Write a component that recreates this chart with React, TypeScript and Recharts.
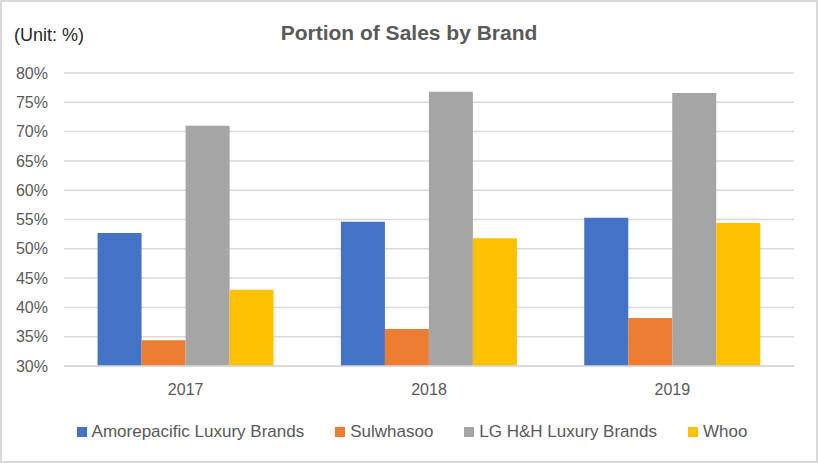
import React from "react";
import { BarChart, Bar, XAxis, YAxis, CartesianGrid, Legend } from "recharts";

const years = ["2017", "2018", "2019"];
const amorepacific = [52.7, 54.6, 55.3];
const sulwhasoo = [34.4, 36.3, 38.2];
const lgLuxury = [71.0, 76.8, 76.6];
const whoo = [43.0, 51.8, 54.4];
const yTicks = [30, 35, 40, 45, 50, 55, 60, 65, 70, 75, 80];

const series = [
  { key: "amore", name: "Amorepacific Luxury Brands", color: "#4472C4", values: amorepacific },
  { key: "sul", name: "Sulwhasoo", color: "#ED7D31", values: sulwhasoo },
  { key: "lg", name: "LG H&H Luxury Brands", color: "#A5A5A5", values: lgLuxury },
  { key: "whoo", name: "Whoo", color: "#FFC000", values: whoo },
];

const data = years.map((y, i) => {
  const row: any = { year: y };
  series.forEach((s) => (row[s.key] = s.values[i]));
  return row;
});

const FONT = "'Liberation Sans', Arial, sans-serif";

const renderLegend = () => {
  return (
    <div style={{ display: "flex", justifyContent: "center", alignItems: "center", fontFamily: FONT, fontSize: 17, color: "#595959", height: 24, paddingLeft: 6 }}>
      {series.map((s, i) => (
        <div key={s.key} style={{ display: "flex", alignItems: "center", marginLeft: i === 0 ? 0 : 31 }}>
          <div style={{ width: 10, height: 10, background: s.color, marginRight: 5 }} />
          <span>{s.name}</span>
        </div>
      ))}
    </div>
  );
};

export default function App() {
  return (
    <div style={{ position: "absolute", left: 0, top: 0, width: 818, height: 463, background: "#fff" }}>
      <div style={{ position: "absolute", left: 0, top: 0, width: 818, height: 463, boxSizing: "border-box", border: "2px solid #d9d9d9", pointerEvents: "none", zIndex: 2 }} />
      <div style={{ position: "absolute", left: 0, width: 818, top: 20, textAlign: "center", fontFamily: FONT, fontWeight: "bold", fontSize: 21, color: "#595959", lineHeight: "26px", zIndex: 3 }}>
        Portion of Sales by Brand
      </div>
      <div style={{ position: "absolute", left: 14, top: 24, fontFamily: FONT, fontSize: 18, color: "#262626", lineHeight: "22px", zIndex: 3 }}>
        (Unit: %)
      </div>
      <BarChart
        width={818}
        height={463}
        data={data}
        margin={{ top: 73, right: 24, left: 14, bottom: 43 }}
        barCategoryGap="13.8%"
        barGap={0}
      >
        <CartesianGrid vertical={false} stroke="#d9d9d9" strokeWidth={1.5} />
        <XAxis
          dataKey="year"
          height={30}
          tickLine={false}
          tickSize={0}
          tickMargin={18}
          axisLine={{ stroke: "#d9d9d9", strokeWidth: 1.5 }}
          tick={{ fill: "#595959", fontSize: 16, fontFamily: FONT }}
        />
        <YAxis
          width={50}
          domain={[30, 80]}
          ticks={yTicks}
          allowDataOverflow
          tickFormatter={(v: number) => `${v}%`}
          axisLine={false}
          tickLine={false}
          tickSize={0}
          tickMargin={16}
          tick={{ fill: "#595959", fontSize: 16, fontFamily: FONT }}
        />
        <Legend
          verticalAlign="bottom"
          height={24}
          content={renderLegend}
          wrapperStyle={{ top: 420, bottom: "auto", left: 0, width: 818 }}
        />
        {series.map((s) => (
          <Bar key={s.key} dataKey={s.key} name={s.name} fill={s.color} isAnimationActive={false} />
        ))}
      </BarChart>
    </div>
  );
}
